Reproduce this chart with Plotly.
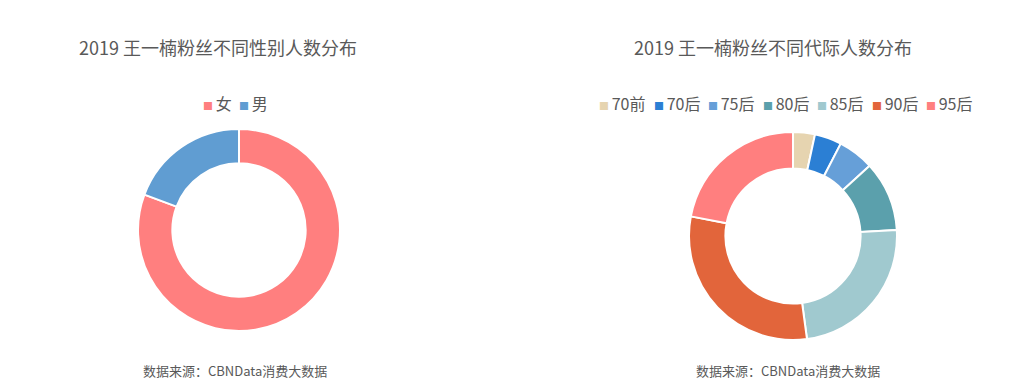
import plotly.graph_objects as go

gender_labels = ["女", "男"]
gender_values = [80.7, 19.3]
gender_colors = ["#ff7f7f", "#609dd2"]

gen_labels = ["70前", "70后", "75后", "80后", "85后", "90后", "95后"]
gen_values = [3.4, 4.2, 5.6, 10.9, 23.8, 30.2, 22.0]
gen_colors = ["#e6d4b0", "#2b7fd4", "#669fd8", "#5ba0ac", "#a0c9cf", "#e2653b", "#ff7f7f"]

title_left = "2019 王一楠粉丝不同性别人数分布"
title_right = "2019 王一楠粉丝不同代际人数分布"
source_text = "数据来源：CBNData消费大数据"

FONT = "Noto Sans CJK SC"
TXT = "#595959"
W, H = 1019, 390

fig = go.Figure()
fig.add_trace(go.Pie(
    labels=gender_labels, values=gender_values, hole=0.66, sort=False,
    direction="clockwise", rotation=0, textinfo="none", showlegend=False,
    marker=dict(colors=gender_colors, line=dict(color="white", width=2)),
    domain=dict(x=[138 / W, 340 / W], y=[1 - 331 / H, 1 - 129 / H]),
))
fig.add_trace(go.Pie(
    labels=gen_labels, values=gen_values, hole=0.65, sort=False,
    direction="clockwise", rotation=0, textinfo="none", showlegend=False,
    marker=dict(colors=gen_colors, line=dict(color="white", width=2)),
    domain=dict(x=[689 / W, 897 / W], y=[1 - 340 / H, 1 - 132 / H]),
))

annotations = []


def add_text(text, xpx, ypx, size, anchor="center", color=TXT):
    annotations.append(dict(
        text=text, x=xpx / W, y=1 - ypx / H, xref="paper", yref="paper",
        xanchor=anchor, yanchor="middle", showarrow=False,
        font=dict(family=FONT, size=size, color=color)))


add_text(title_left, 218, 47, 18)
add_text(title_right, 773, 47, 18)
add_text(source_text, 235, 370, 13)
add_text(source_text, 788, 370, 13)


# legends drawn as text items
def add_legend(labels, colors, start_px, step_px, ypx):
    for i, (lab, col) in enumerate(zip(labels, colors)):
        txt = (f"<span style='color:{col};font-size:10px'>■</span>"
               f"<span style='font-size:12px'>&nbsp;</span>{lab}")
        add_text(txt, start_px + i * step_px, ypx, 16, anchor="left")


add_legend(gender_labels, gender_colors, 201, 35.5, 103)
add_legend(gen_labels, gen_colors, 597, 54.5, 103)

fig.update_layout(
    width=W, height=H,
    margin=dict(l=0, r=0, t=0, b=0),
    paper_bgcolor="white", plot_bgcolor="white",
    font=dict(family=FONT),
    showlegend=False,
    annotations=annotations,
)

fig.write_html("out.html")
